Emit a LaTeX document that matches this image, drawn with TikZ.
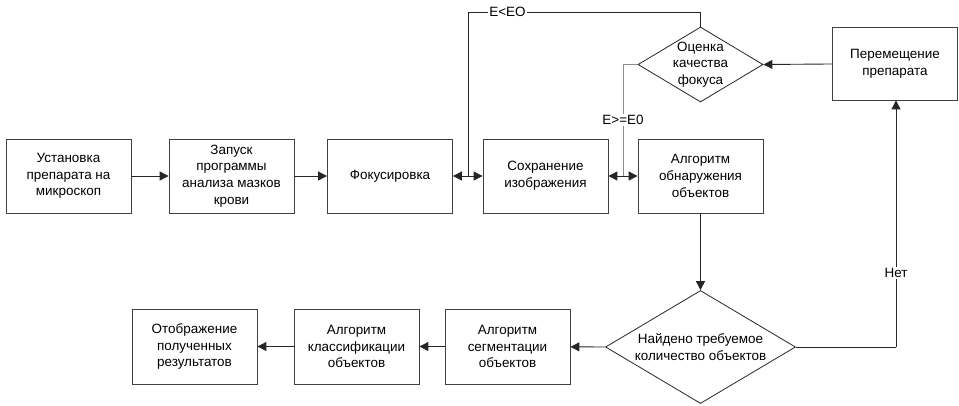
\documentclass[tikz,border=0pt]{standalone}
\usepackage{fontspec}
\setmainfont{Liberation Sans}
\usetikzlibrary{arrows.meta,shapes.geometric}
\begin{document}
\begin{tikzpicture}[x=1bp,y=-1bp,
  every node/.style={font=\fontsize{13.5}{16.7}\selectfont},
  box/.style={draw=black!75,line width=0.8bp,minimum width=125bp,minimum height=74bp,align=center,inner sep=0pt,fill=white},
  dec/.style={draw=black!85,line width=0.8bp,diamond,inner sep=0pt,fill=white},
  txt/.style={align=center,inner sep=0pt},
  ln/.style={draw=black!85,line width=0.9bp},
  arr/.style={ln,-{Triangle[length=9bp,width=9bp]}},
  darr/.style={ln,{Triangle[length=9bp,width=9bp]}-{Triangle[length=9bp,width=9bp]}},
  lbl/.style={fill=white,inner sep=1bp}]
\useasboundingbox (0,0) rectangle (959,405);
% top row
\node[box] (b1) at (68.5,176) {Установка\\препарата на\\микроскоп};
\node[box] (b2) at (231.5,176) {Запуск\\программы\\анализа мазков\\крови};
\node[box] (b3) at (390,176) {Фокусировка};
\node[box] (b4) at (545.5,176) {Сохранение\\изображения};
\node[box] (b5) at (700.5,176) {Алгоритм\\обнаружения\\объектов};
\node[box,minimum height=73bp] (b6) at (895,63.5) {Перемещение\\препарата};
% decision diamonds
\node[dec,minimum width=125bp,minimum height=75bp] (d1) at (700.5,64.5) {};
\node[txt] (d1t) at (d1.center) {Оценка\\качества\\фокуса};
\node[dec,minimum width=190bp,minimum height=113bp] (d2) at (700.5,347) {};
\node[txt] (d2t) at (d2.center) {Найдено требуемое\\количество объектов};
% bottom row
\node[box,minimum height=75bp] (c3) at (507.5,346.5) {Алгоритм\\сегментации\\объектов};
\node[box,minimum height=75bp] (c2) at (356.5,346.5) {Алгоритм\\классификации\\объектов};
\node[box,minimum height=75bp] (c1) at (194.5,346.5) {Отображение\\полученных\\результатов};
% coordinates
\coordinate (j1) at (468,176);
\coordinate (j2) at (623,176);
\coordinate (t1) at (468,12);
\coordinate (t2) at (700.5,12);
\coordinate (g1) at (623,64.5);
\coordinate (n1) at (896,347);
% connectors
\draw[arr] (b1) -- (b2);
\draw[arr] (b2) -- (b3);
\draw[darr] (b3) -- (b4);
\draw[darr] (b4) -- (b5);
\draw[ln] (d1.north) -- (t2) -- node[lbl,pos=0.83,inner sep=1.5bp] {E<EO} (t1) -- (j1);
\draw[draw=black!45,line width=0.9bp] (d1.west) -- (g1) -- node[lbl,pos=0.5] {E>=E0} (j2);
\draw[arr] (b6) -- (d1.east);
\draw[arr] (b5) -- (d2.north);
\draw[ln] (d2.east) -- (n1);
\draw[arr] (n1) -- node[lbl,pos=0.3] {Нет} (b6.south -| n1);
\draw[arr] (d2.west) -- (c3);
\draw[arr] (c3) -- (c2);
\draw[arr] (c2) -- (c1);
\end{tikzpicture}
\end{document}
